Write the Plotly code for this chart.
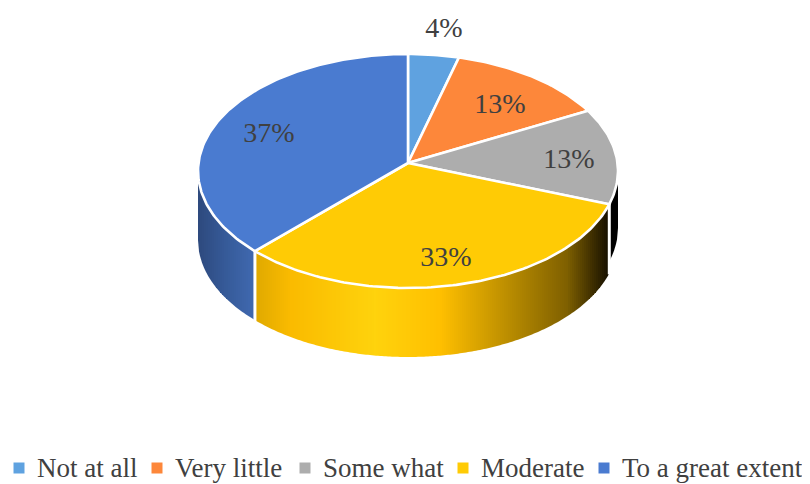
import math
import plotly.graph_objects as go

categories = ["Not at all", "Very little", "Some what", "Moderate", "To a great extent"]
shares = [3.9, 12.5, 13.2, 33.4, 37.0]
pct_labels = ["4%", "13%", "13%", "33%", "37%"]
colors = ["#5fa2e0", "#fd873a", "#adadad", "#ffcb05", "#4a7bd0"]

# geometry of the tilted disc, in page pixels
CX, CY, RX, RY, DEPTH = 408, 171, 210, 117, 69
APEX = (408, 163)
label_xy = [(444, 30), (500, 106), (569, 161), (446, 259), (269, 135)]
legend_marker_x = [19, 157, 305, 463, 604]
legend_text_gap = 18
legend_y = 470
PAGE_INSET = 8  # the page body offsets the figure by this much
FONT = "Liberation Serif"
TEXT = "#404040"

wall_depth = {2: 57, 3: DEPTH, 4: DEPTH}
wall_stops = {
    2: [(600, "#000000"), (620, "#000000")],
    3: [(250, "#dca700"), (290, "#fabb00"), (375, "#ffd30d"), (440, "#ffc000"),
        (510, "#b98c00"), (567, "#7f6000"), (607, "#1a1300"), (616, "#000000")],
    4: [(198, "#2e4a7d"), (225, "#365a98"), (250, "#3f67ad")],
}


def rgb(h):
    return tuple(int(h[i:i + 2], 16) for i in (1, 3, 5))


def grad(stops, x):
    if x <= stops[0][0]:
        return stops[0][1]
    for (x0, c0), (x1, c1) in zip(stops, stops[1:]):
        if x <= x1:
            t = (x - x0) / (x1 - x0)
            a, b = rgb(c0), rgb(c1)
            return "rgb(%d,%d,%d)" % tuple(a[i] + (b[i] - a[i]) * t for i in range(3))
    return stops[-1][1]


def pt(deg):
    r = math.radians(deg)
    return CX + RX * math.sin(r), CY - RY * math.cos(r)


def front_y(x):
    u = min(1.0, abs(x - CX) / RX)
    return CY + RY * math.sqrt(1 - u * u)


fig = go.Figure()

# angular bounds of every slice, from the shares
total = sum(shares)
bounds = [0]
for s in shares:
    bounds.append(bounds[-1] + s / total * 360)

# side walls, as pixel-aligned vertical strips so the gradient has no seams
for i in (2, 3, 4):
    xa = pt(max(bounds[i], 90))[0]
    xb = pt(min(bounds[i + 1], 270))[0]
    left, right = min(xa, xb), max(xa, xb)
    x = left
    while x < right:
        nxt = min(right, math.floor(x / 2 + 1) * 2)
        steps = [x, (x + nxt) / 2, nxt]
        tops = [front_y(v) for v in steps]
        bottoms = [t + wall_depth[i] for t in tops]
        c = grad(wall_stops[i], (x + nxt) / 2)
        fig.add_trace(go.Scatter(x=steps + steps[::-1] + [x], y=tops + bottoms[::-1] + [tops[0]],
                                 mode="lines", fill="toself", fillcolor=c,
                                 line=dict(color=c, width=0), hoverinfo="skip",
                                 showlegend=False))
        x = nxt

# white seams on the wall
for deg in (bounds[3], bounds[4]):
    p = pt(deg)
    fig.add_trace(go.Scatter(x=[p[0], p[0]], y=[p[1], p[1] + DEPTH + 1], mode="lines",
                             line=dict(color="white", width=3), hoverinfo="skip",
                             showlegend=False))

# top face
for i, cat in enumerate(categories):
    n = max(4, int((bounds[i + 1] - bounds[i]) / 1.0))
    arc = [pt(bounds[i] + (bounds[i + 1] - bounds[i]) * k / n) for k in range(n + 1)]
    xs = [APEX[0]] + [p[0] for p in arc] + [APEX[0]]
    ys = [APEX[1]] + [p[1] for p in arc] + [APEX[1]]
    fig.add_trace(go.Scatter(x=xs, y=ys, mode="lines", fill="toself", fillcolor=colors[i],
                             line=dict(color="white", width=2.6), name=cat,
                             hoverinfo="skip", showlegend=False))

# percentage labels
fig.add_trace(go.Scatter(x=[p[0] for p in label_xy], y=[p[1] for p in label_xy], mode="text",
                         text=pct_labels, textposition="middle center",
                         textfont=dict(family=FONT, size=28, color=TEXT),
                         hoverinfo="skip", showlegend=False))

# legend row
for i, cat in enumerate(categories):
    fig.add_trace(go.Scatter(x=[legend_marker_x[i]], y=[legend_y - 2], mode="markers",
                             marker=dict(symbol="square", size=11, color=colors[i]),
                             hoverinfo="skip", showlegend=False))
    fig.add_trace(go.Scatter(x=[legend_marker_x[i] + legend_text_gap], y=[legend_y], mode="text",
                             text=[cat], textposition="middle right",
                             textfont=dict(family=FONT, size=27, color=TEXT),
                             hoverinfo="skip", showlegend=False))

fig.update_layout(
    width=810, height=484, margin=dict(l=0, r=0, t=0, b=0),
    paper_bgcolor="white", plot_bgcolor="white", showlegend=False,
    xaxis=dict(range=[PAGE_INSET, 810 + PAGE_INSET], visible=False, fixedrange=True),
    yaxis=dict(range=[484 + PAGE_INSET, PAGE_INSET], visible=False, fixedrange=True),
)
fig.write_html("out.html", config={"displayModeBar": False})
